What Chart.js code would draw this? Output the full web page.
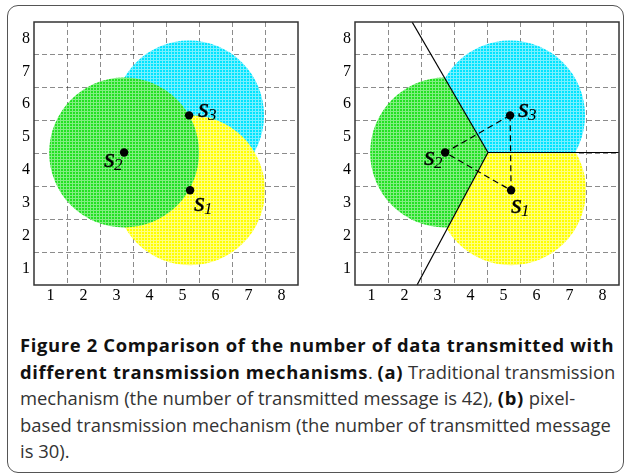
<!DOCTYPE html>
<html>
<head>
<meta charset="utf-8">
<script src="https://cdn.jsdelivr.net/npm/chart.js@4.4.1/dist/chart.umd.min.js"></script>
<style>
  body { margin: 0; background: #fff; }
  #page { position: relative; width: 625px; height: 475px; overflow: hidden; }
  #frame { position: absolute; left: 7px; top: 5px; width: 617px; height: 468px; box-sizing: border-box;
           border: 1.5px solid #555; border-radius: 11px; }
  #panelA { position: absolute; left: 0; top: 0; }
  #panelB { position: absolute; left: 321px; top: 0; }
  #caption { position: absolute; left: 20px; top: 332px; width: 600px; white-space: nowrap;
             font-family: 'Open Sans', sans-serif; font-size: 18.4px; line-height: 26.5px; color: #333; }
  #caption b { color: #111; font-weight: 700; letter-spacing: 0.65px; }
</style>
</head>
<body>
<div id="page">
  <div id="frame"></div>
  <canvas id="panelA" width="310" height="310"></canvas>
  <canvas id="panelB" width="304" height="310"></canvas>
  <div id="caption">
    <b>Figure 2 Comparison of the number of data transmitted with</b><br>
    <b>different transmission mechanisms</b>. <b>(a)</b> Traditional transmission<br>
    mechanism (the number of transmitted message is 42), <b>(b)</b> pixel-<br>
    based transmission mechanism (the number of transmitted message<br>
    is 30).
  </div>
</div>
<script>
// axes
var axisMin = 0.5, axisMax = 8.5;
var tickValues = [1, 2, 3, 4, 5, 6, 7, 8];
var tickLabels = ['1', '2', '3', '4', '5', '6', '7', '8'];
var gridValues = [1.5, 2.5, 3.5, 4.5, 5.5, 6.5, 7.5];

// sensor nodes s1, s2, s3
var sensorNames = ['1', '2', '3'];
var sensorX = [5.23, 3.23, 5.2];
var sensorY = [3.38, 4.53, 5.66];
var coverageRadius = [2.27, 2.27, 2.27];

// voronoi edges (b): shared vertex and the three end points on the border
var voronoiVertex = [4.53, 4.53];
var edgeEndX = [2.23, 8.5, 2.38];
var edgeEndY = [8.5, 4.53, 0.5];

// voronoi cells used to cut each coverage disc in (b)
var cellX = [
  [4.53, 8.5, 8.5, 2.38],
  [4.53, 2.38, 0.5, 0.5, 2.23],
  [4.53, 2.23, 8.5, 8.5]
];
var cellY = [
  [4.53, 4.53, 0.5, 0.5],
  [4.53, 0.5, 0.5, 8.5, 8.5],
  [4.53, 8.5, 8.5, 4.53]
];

var serif = '"Liberation Serif", "Times New Roman", serif';

function mesh(base, light) {
  var c = document.createElement('canvas');
  c.width = 3; c.height = 3;
  var g = c.getContext('2d');
  g.fillStyle = base; g.fillRect(0, 0, 3, 3);
  g.fillStyle = light; g.fillRect(0, 0, 3, 1); g.fillRect(0, 0, 1, 3);
  return g.createPattern(c, 'repeat');
}
var discFill = [
  mesh('rgb(255,255,0)', 'rgb(255,255,130)'),
  mesh('rgb(35,225,35)', 'rgb(130,238,130)'),
  mesh('rgb(0,228,255)', 'rgb(120,240,255)')
];
var discOrder = [4, 3, 5];

function radiusPx(chart, r) {
  var s = chart.scales.x;
  return Math.abs(s.getPixelForValue(r) - s.getPixelForValue(0));
}

function discDatasets(clipped) {
  return sensorX.map(function (x, i) {
    return {
      type: 'scatter',
      data: [{ x: x, y: sensorY[i] }],
      pointRadius: function (ctx) { return radiusPx(ctx.chart, coverageRadius[i]); },
      backgroundColor: discFill[i],
      borderWidth: 0,
      order: discOrder[i],
      cell: clipped ? i : null
    };
  });
}

function nodeDataset() {
  return {
    type: 'scatter',
    data: sensorX.map(function (x, i) { return { x: x, y: sensorY[i] }; }),
    pointRadius: 4.2,
    backgroundColor: '#000',
    borderWidth: 0,
    order: 0
  };
}

var cellClip = {
  id: 'cellClip',
  beforeDatasetDraw: function (chart, args) {
    var i = chart.data.datasets[args.index].cell;
    if (i === null || i === undefined) return;
    var ctx = chart.ctx, sx = chart.scales.x, sy = chart.scales.y;
    ctx.save();
    ctx.beginPath();
    cellX[i].forEach(function (x, k) {
      var px = sx.getPixelForValue(x), py = sy.getPixelForValue(cellY[i][k]);
      if (k === 0) ctx.moveTo(px, py); else ctx.lineTo(px, py);
    });
    ctx.closePath();
    ctx.clip();
  },
  afterDatasetDraw: function (chart, args) {
    var i = chart.data.datasets[args.index].cell;
    if (i === null || i === undefined) return;
    chart.ctx.restore();
  }
};

var plotFrame = {
  id: 'plotFrame',
  afterDraw: function (chart) {
    var a = chart.chartArea, ctx = chart.ctx;
    ctx.save();
    ctx.strokeStyle = '#333';
    ctx.lineWidth = 1.5;
    ctx.strokeRect(a.left, a.top, a.right - a.left, a.bottom - a.top);
    ctx.restore();
  }
};

var nodeLabels = {
  id: 'nodeLabels',
  afterDatasetsDraw: function (chart, args, opts) {
    var ctx = chart.ctx, sx = chart.scales.x, sy = chart.scales.y;
    ctx.save();
    ctx.fillStyle = '#000';
    ctx.strokeStyle = '#000';
    ctx.lineWidth = 0.35;
    ctx.textBaseline = 'alphabetic';
    ctx.textAlign = 'left';
    sensorNames.forEach(function (n, i) {
      var x = sx.getPixelForValue(sensorX[i]) + opts.dx[i];
      var y = sy.getPixelForValue(sensorY[i]) + opts.dy[i];
      ctx.font = 'italic 28px ' + serif;
      ctx.fillText('s', x, y);
      ctx.strokeText('s', x, y);
      var w = ctx.measureText('s').width;
      ctx.font = 'italic 17px ' + serif;
      ctx.fillText(n, x + w - 1, y + 3);
    });
    ctx.restore();
  }
};

function axis(isX) {
  var ax = {
    type: 'linear',
    min: axisMin,
    max: axisMax,
    z: 1,
    afterBuildTicks: function (s) {
      s.ticks = tickValues.concat(gridValues).sort(function (a, b) { return a - b; })
        .map(function (v) { return { value: v }; });
    },
    ticks: {
      autoSkip: false,
      maxRotation: 0,
      padding: isX ? 1 : 4,
      color: '#000',
      font: { family: serif, size: 16 },
      callback: function (v) {
        var k = tickValues.indexOf(v);
        return k >= 0 ? tickLabels[k] : '';
      }
    },
    grid: {
      drawTicks: false,
      lineWidth: 1,
      color: function (ctx) {
        return ctx.tick && gridValues.indexOf(ctx.tick.value) >= 0 ? 'rgba(0,0,0,0.45)' : 'rgba(0,0,0,0)';
      }
    },
    border: { display: false, dash: [5, 3] }
  };
  if (isX) ax.afterFit = function (s) { s.height = 25; };
  else ax.afterFit = function (s) { s.width = 34; };
  return ax;
}

function panelOptions(padRight, labelDx, labelDy) {
  return {
    responsive: false,
    animation: false,
    events: [],
    layout: { padding: { top: 22, right: padRight, bottom: 0, left: 0 } },
    plugins: {
      legend: { display: false },
      tooltip: { enabled: false },
      nodeLabels: { dx: labelDx, dy: labelDy }
    },
    scales: { x: axis(true), y: axis(false) }
  };
}

function drawPanels() {
  // (a) traditional: full coverage discs
  new Chart(document.getElementById('panelA'), {
    type: 'scatter',
    data: { datasets: discDatasets(false).concat([nodeDataset()]) },
    options: panelOptions(12, [4, -20, 9], [21, 14, 2]),
    plugins: [plotFrame, nodeLabels]
  });

  // (b) pixel-based: discs cut by voronoi cells
  var voronoiSets = edgeEndX.map(function (x, k) {
    return {
      type: 'scatter',
      showLine: true,
      data: [{ x: voronoiVertex[0], y: voronoiVertex[1] }, { x: x, y: edgeEndY[k] }],
      borderColor: '#000',
      borderWidth: 1.2,
      pointRadius: 0,
      order: 2
    };
  });
  var linkSet = {
    type: 'scatter',
    showLine: true,
    data: [2, 1, 0, 2].map(function (i) { return { x: sensorX[i], y: sensorY[i] }; }),
    borderColor: '#000',
    borderWidth: 1.2,
    borderDash: [6, 4],
    pointRadius: 0,
    order: 1
  };

  new Chart(document.getElementById('panelB'), {
    type: 'scatter',
    data: { datasets: discDatasets(true).concat(voronoiSets, [linkSet, nodeDataset()]) },
    options: panelOptions(6, [0, -21, 8], [23, 12, 2]),
    plugins: [cellClip, plotFrame, nodeLabels]
  });
}

Promise.all([
  document.fonts.load('16px "Liberation Serif"'),
  document.fonts.load('italic 28px "Liberation Serif"')
]).then(drawPanels, drawPanels);
</script>
</body>
</html>
